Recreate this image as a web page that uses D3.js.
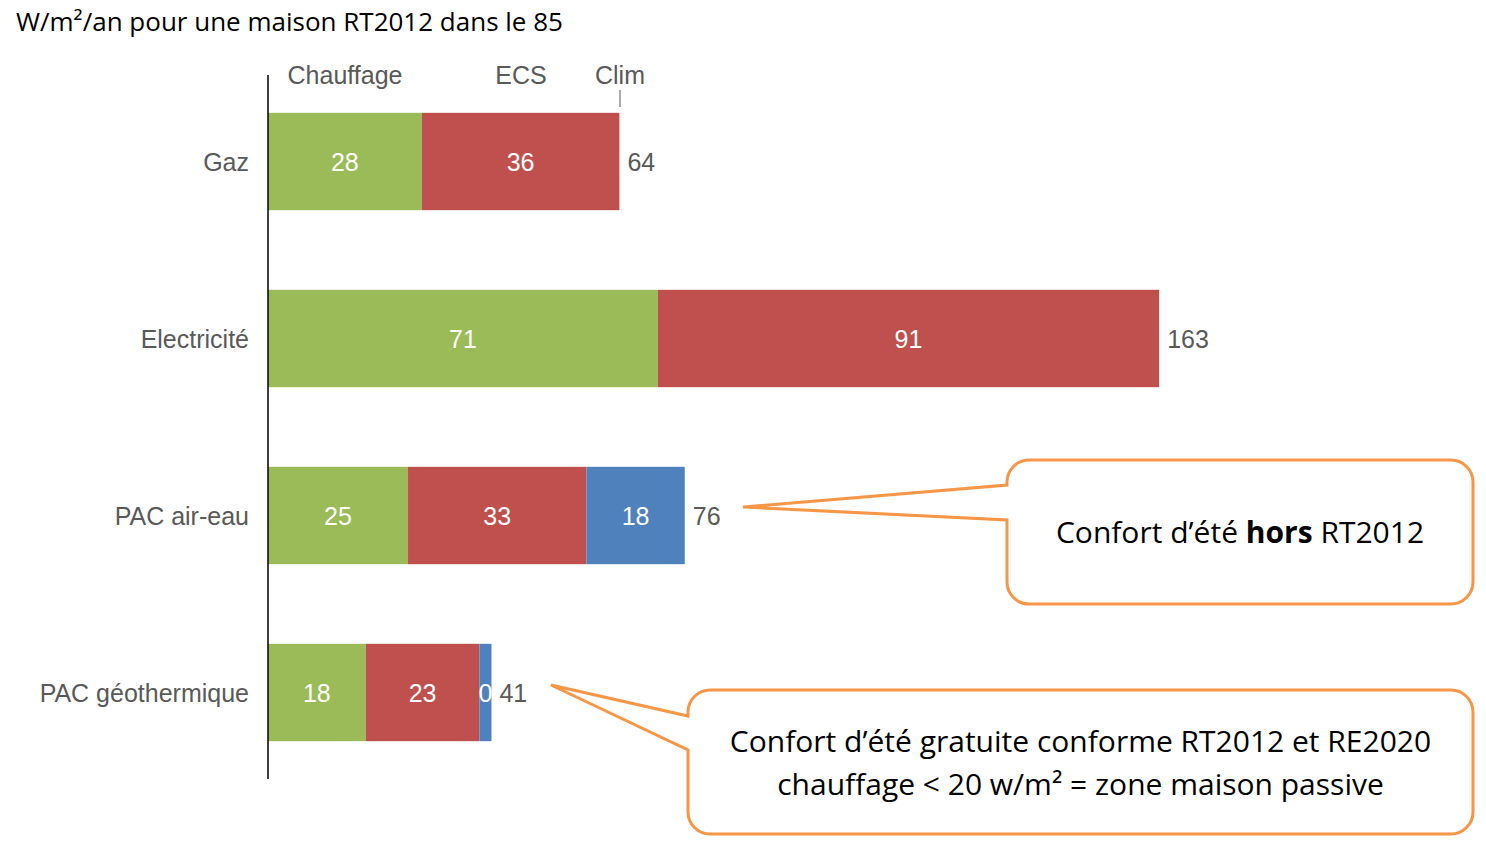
<!DOCTYPE html>
<html><head><meta charset="utf-8">
<script src="https://cdn.jsdelivr.net/npm/d3@7"></script>
<style>body{margin:0;background:#fff}</style></head>
<body><svg id="chart" width="1486" height="844"></svg>
<script>
// data
const categories = ['Gaz', 'Electricité', 'PAC air-eau', 'PAC géothermique'];
const series = ['Chauffage', 'ECS', 'Clim'];
const chauffage = [28, 71, 25.5, 17.8];
const ecs = [36, 91.3, 32.5, 20.7];
const clim = [0, 0, 17.9, 2.2];
const chauffageLabels = ['28', '71', '25', '18'];
const ecsLabels = ['36', '91', '33', '23'];
const climLabels = ['', '', '18', '0'];
const totals = ['64', '163', '76', '41'];

const colors = ['#9BBB59', '#C0504D', '#4F81BD'];
const svg = d3.select('#chart');

const x = d3.scaleLinear().domain([0, 163]).range([268, 1163]);
const y = d3.scaleBand().domain(categories).range([73, 781]).paddingInner(0.45).paddingOuter(0.225);

const vals = [chauffage, ecs, clim];
const labs = [chauffageLabels, ecsLabels, climLabels];

// title
svg.append('text').attr('x', 16).attr('y', 31)
    .style('font', '26px "Open Sans", sans-serif').attr('fill', '#000')
    .text('W/m²/an pour une maison RT2012 dans le 85');

categories.forEach((c, i) => {
    let start = 0;
    vals.forEach((arr, s) => {
        const v = arr[i];
        if (v > 0) {
            svg.append('rect')
                .attr('x', x(start)).attr('y', y(c))
                .attr('width', x(start + v) - x(start)).attr('height', y.bandwidth())
                .attr('fill', colors[s]);
            svg.append('text')
                .attr('x', (x(start) + x(start + v)) / 2).attr('y', y(c) + y.bandwidth() / 2 + 9)
                .attr('text-anchor', 'middle').attr('fill', '#fff')
                .style('font', '25px "Liberation Sans", Arial, sans-serif')
                .text(labs[s][i]);
        }
        start += v;
    });
    svg.append('text')
        .attr('x', x(start) + 8).attr('y', y(c) + y.bandwidth() / 2 + 9)
        .attr('fill', '#595959').style('font', '25px "Liberation Sans", Arial, sans-serif')
        .text(totals[i]);
    svg.append('text')
        .attr('x', 249).attr('y', y(c) + y.bandwidth() / 2 + 9)
        .attr('text-anchor', 'end').attr('fill', '#595959')
        .style('font', '25px "Liberation Sans", Arial, sans-serif')
        .text(c);
});

// axis line
svg.append('line').attr('x1', 268).attr('x2', 268).attr('y1', 75).attr('y2', 779)
    .attr('stroke', '#000').attr('stroke-width', 1.5);

// series header labels
const headerX = [345, 521, 620];
series.forEach((s, i) => {
    svg.append('text').attr('x', headerX[i]).attr('y', 84)
        .attr('text-anchor', 'middle').attr('fill', '#595959')
        .style('font', '25px "Liberation Sans", Arial, sans-serif').text(s);
});
svg.append('line').attr('x1', 620).attr('x2', 620).attr('y1', 90).attr('y2', 107)
    .attr('stroke', '#595959').attr('stroke-width', 1);

// callouts
function callout(bx, by, bw, bh, tip, a1, a2, lines) {
    const r = 22;
    const p = d3.path();
    p.moveTo(bx + r, by);
    p.lineTo(bx + bw - r, by); p.arcTo(bx + bw, by, bx + bw, by + r, r);
    p.lineTo(bx + bw, by + bh - r); p.arcTo(bx + bw, by + bh, bx + bw - r, by + bh, r);
    p.lineTo(bx + r, by + bh); p.arcTo(bx, by + bh, bx, by + bh - r, r);
    p.lineTo(bx, a2); p.lineTo(tip[0], tip[1]); p.lineTo(bx, a1);
    p.lineTo(bx, by + r); p.arcTo(bx, by, bx + r, by, r);
    p.closePath();
    svg.append('path').attr('d', p.toString()).attr('fill', '#fff')
        .attr('stroke', '#F79646').attr('stroke-width', 3);
    lines.forEach((l, k) => {
        const t = svg.append('text').attr('x', bx + bw / 2)
            .attr('y', by + bh / 2 + 11 + (k - (lines.length - 1) / 2) * 43)
            .attr('text-anchor', 'middle').attr('fill', '#000')
            .style('font', '30px "Open Sans", sans-serif');
        l.forEach(seg => t.append('tspan').style('font-weight', seg[1] ? 'bold' : 'normal').text(seg[0]));
    });
}
callout(1007, 460, 466, 144, [743, 507], 485, 520,
    [[['Confort d’été ', 0], ['hors', 1], [' RT2012', 0]]]);
callout(688, 690, 785, 144, [551, 685], 716, 750,
    [[['Confort d’été gratuite conforme RT2012 et RE2020', 0]],
     [['chauffage < 20 w/m² = zone maison passive', 0]]]);
</script></body></html>
